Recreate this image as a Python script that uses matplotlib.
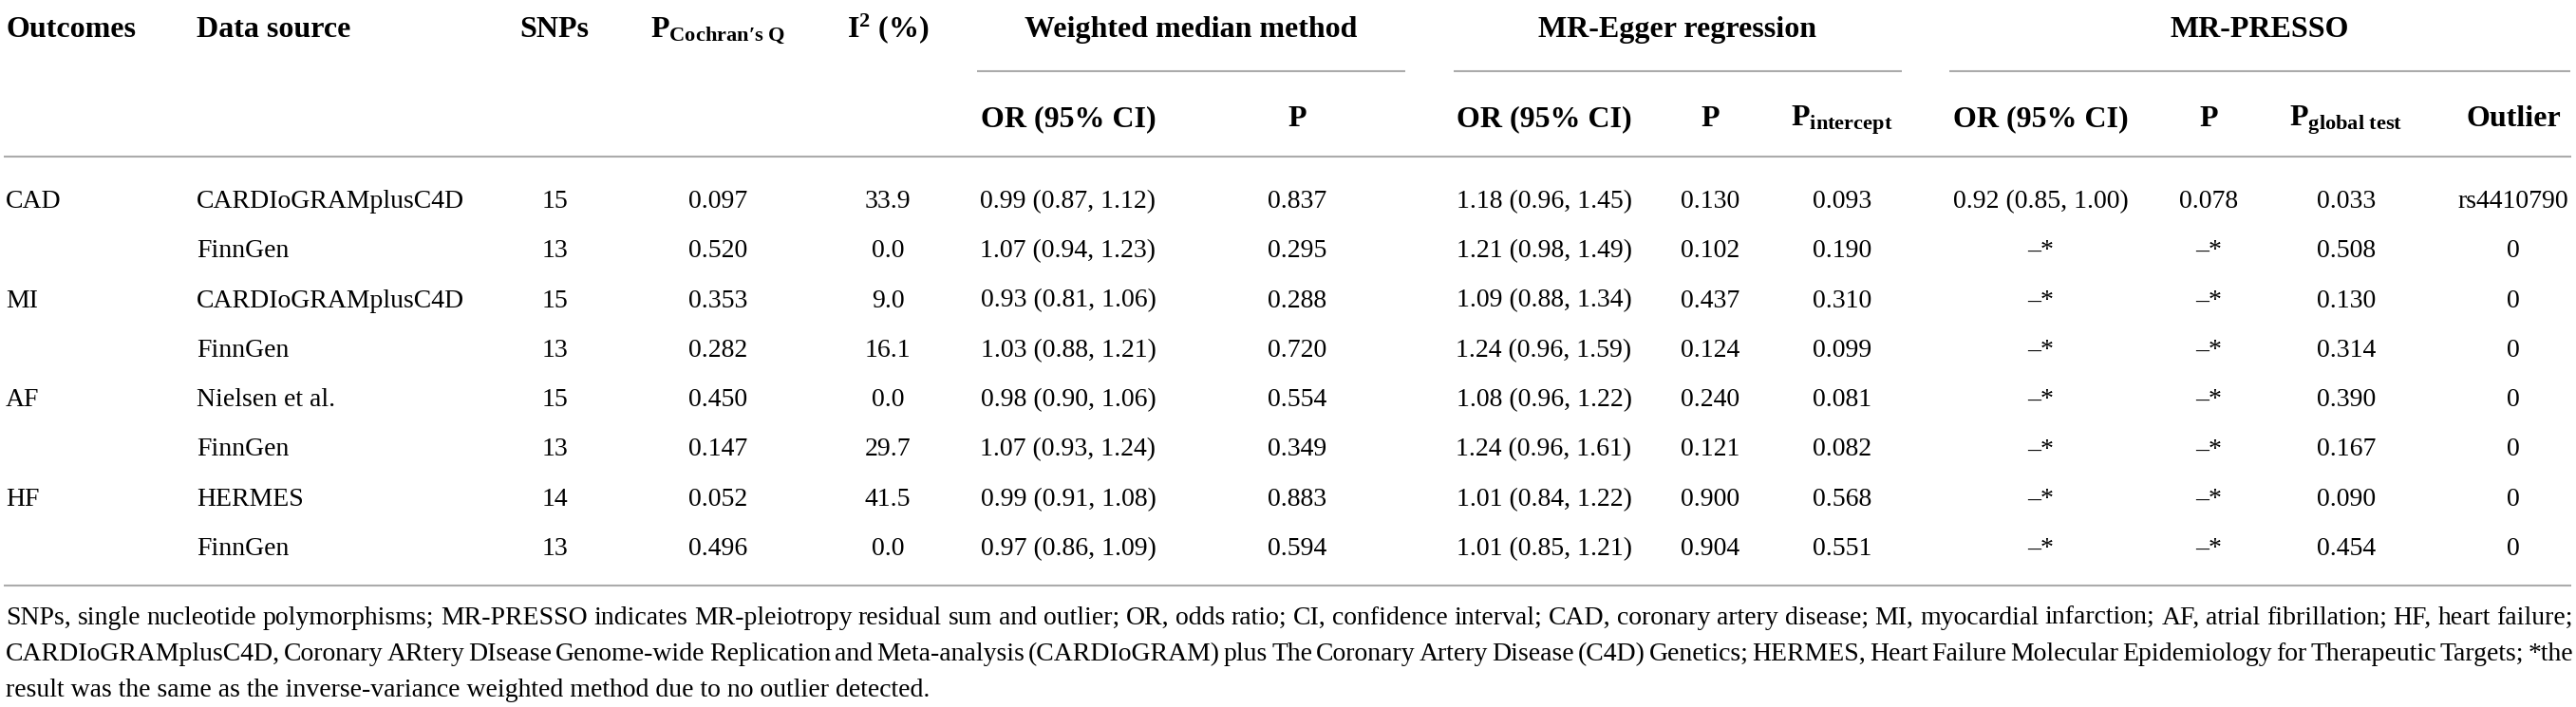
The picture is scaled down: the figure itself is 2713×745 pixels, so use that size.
import matplotlib
matplotlib.use("Agg")
import matplotlib.pyplot as plt

plt.rcParams['font.family'] = ['Liberation Serif', 'DejaVu Serif']
plt.rcParams['mathtext.fontset'] = 'custom'
plt.rcParams['mathtext.rm'] = 'Liberation Serif'
plt.rcParams['mathtext.bf'] = 'Liberation Serif:bold'
plt.rcParams['mathtext.it'] = 'Liberation Serif:italic'

# ---------------- data ----------------
outcomes = ["CAD", "", "MI", "", "AF", "", "HF", ""]
sources = ["CARDIoGRAMplusC4D", "FinnGen", "CARDIoGRAMplusC4D", "FinnGen",
           "Nielsen et al.", "FinnGen", "HERMES", "FinnGen"]
snps = [15, 13, 15, 13, 15, 13, 14, 13]
p_cochran = [0.097, 0.520, 0.353, 0.282, 0.450, 0.147, 0.052, 0.496]
i2 = [33.9, 0.0, 9.0, 16.1, 0.0, 29.7, 41.5, 0.0]
wm_or = [0.99, 1.07, 0.93, 1.03, 0.98, 1.07, 0.99, 0.97]
wm_lo = [0.87, 0.94, 0.81, 0.88, 0.90, 0.93, 0.91, 0.86]
wm_hi = [1.12, 1.23, 1.06, 1.21, 1.06, 1.24, 1.08, 1.09]
wm_p = [0.837, 0.295, 0.288, 0.720, 0.554, 0.349, 0.883, 0.594]
eg_or = [1.18, 1.21, 1.09, 1.24, 1.08, 1.24, 1.01, 1.01]
eg_lo = [0.96, 0.98, 0.88, 0.96, 0.96, 0.96, 0.84, 0.85]
eg_hi = [1.45, 1.49, 1.34, 1.59, 1.22, 1.61, 1.22, 1.21]
eg_p = [0.130, 0.102, 0.437, 0.124, 0.240, 0.121, 0.900, 0.904]
eg_int = [0.093, 0.190, 0.310, 0.099, 0.081, 0.082, 0.568, 0.551]
pr_or = ["0.92 (0.85, 1.00)", "–*", "–*", "–*", "–*", "–*", "–*", "–*"]
pr_p = ["0.078", "–*", "–*", "–*", "–*", "–*", "–*", "–*"]
pr_global = [0.033, 0.508, 0.130, 0.314, 0.390, 0.167, 0.090, 0.454]
outlier = ["rs4410790", "0", "0", "0", "0", "0", "0", "0"]

group_headers = ["Weighted median method", "MR-Egger regression", "MR-PRESSO"]
footnote = [
    "SNPs, single nucleotide polymorphisms; MR-PRESSO indicates MR-pleiotropy residual sum and outlier; "
    "OR, odds ratio; CI, confidence interval; CAD, coronary artery disease; MI, myocardial infarction; "
    "AF, atrial fibrillation; HF, heart failure;",
    "CARDIoGRAMplusC4D, Coronary ARtery DIsease Genome-wide Replication and Meta-analysis (CARDIoGRAM) "
    "plus The Coronary Artery Disease (C4D) Genetics; HERMES, Heart Failure Molecular Epidemiology for "
    "Therapeutic Targets; *the",
    "result was the same as the inverse-variance weighted method due to no outlier detected.",
]

# ---------------- layout ----------------
W, H = 2713, 745
fig = plt.figure(figsize=(W / 100, H / 100), dpi=100)
ax = fig.add_axes([0, 0, 1, 1])
ax.set_xlim(0, W)
ax.set_ylim(H, 0)
ax.axis('off')

BODY = 20
HEAD = 23
LINE_C = '#ababab'
LW = 1.5

col_x = {
    'outcome': 6, 'source': 207, 'snps': 584, 'pq': 756, 'i2': 935,
    'wm_or': 1125, 'wm_p': 1366, 'eg_or': 1626, 'eg_p': 1801, 'eg_int': 1940,
    'pr_or': 2149, 'pr_p': 2326, 'pr_g': 2471, 'out': 2647,
}

hdr1_y = 39
hdr2_y = 133

def txt(x, y, s, ha='center', bold=False, size=BODY):
    ax.text(x, y, s, ha=ha, va='baseline', fontsize=size,
            fontweight='bold' if bold else 'normal', color='black')

# header row 1
txt(col_x['outcome'], hdr1_y, "Outcomes", ha='left', bold=True, size=HEAD)
txt(col_x['source'], hdr1_y, "Data source", ha='left', bold=True, size=HEAD)
txt(col_x['snps'], hdr1_y, "SNPs", bold=True, size=HEAD)
txt(col_x['pq'], hdr1_y, r"$\mathbf{P}_{\mathbf{Cochran′s\ Q}}$", bold=True, size=HEAD)
txt(col_x['i2'], hdr1_y, r"$\mathbf{I}^{\mathbf{2}}$ (%)", bold=True, size=HEAD)

groups = [(1029, 1480), (1531, 2003), (2053, 2707)]
for (x0, x1), g in zip(groups, group_headers):
    txt((x0 + x1) / 2, hdr1_y, g, bold=True, size=HEAD)
    ax.plot([x0, x1], [75, 75], color=LINE_C, lw=LW, solid_capstyle='butt')

# header row 2
sub = [('wm_or', "OR (95% CI)"), ('wm_p', "P"), ('eg_or', "OR (95% CI)"),
       ('eg_p', "P"), ('eg_int', r"$\mathbf{P}_{\mathbf{intercept}}$"),
       ('pr_or', "OR (95% CI)"), ('pr_p', "P"),
       ('pr_g', r"$\mathbf{P}_{\mathbf{global\ test}}$"), ('out', "Outlier")]
for k, s in sub:
    txt(col_x[k], hdr2_y, s, bold=True, size=HEAD)

# rules
ax.plot([4, 2708], [165, 165], color=LINE_C, lw=LW, solid_capstyle='butt')
ax.plot([4, 2708], [617, 617], color=LINE_C, lw=LW, solid_capstyle='butt')

# body rows
row0 = 219.0
step = 52.3
for i in range(len(sources)):
    y = row0 + i * step
    txt(col_x['outcome'], y, outcomes[i], ha='left')
    txt(col_x['source'], y, sources[i], ha='left')
    txt(col_x['snps'], y, f"{snps[i]}")
    txt(col_x['pq'], y, f"{p_cochran[i]:.3f}")
    txt(col_x['i2'], y, f"{i2[i]:.1f}")
    txt(col_x['wm_or'], y, f"{wm_or[i]:.2f} ({wm_lo[i]:.2f}, {wm_hi[i]:.2f})")
    txt(col_x['wm_p'], y, f"{wm_p[i]:.3f}")
    txt(col_x['eg_or'], y, f"{eg_or[i]:.2f} ({eg_lo[i]:.2f}, {eg_hi[i]:.2f})")
    txt(col_x['eg_p'], y, f"{eg_p[i]:.3f}")
    txt(col_x['eg_int'], y, f"{eg_int[i]:.3f}")
    txt(col_x['pr_or'], y, pr_or[i])
    txt(col_x['pr_p'], y, pr_p[i])
    txt(col_x['pr_g'], y, f"{pr_global[i]:.3f}")
    txt(col_x['out'], y, outlier[i])

# footnote (first two lines justified)
renderer = fig.canvas.get_renderer()
foot_y = [658, 696, 734]
left, right = 6, 2710
for li, (line, y) in enumerate(zip(footnote, foot_y)):
    if li < len(footnote) - 1:
        words = line.split(" ")
        objs = [ax.text(0, y, w, ha='left', va='baseline', fontsize=BODY) for w in words]
        widths = [o.get_window_extent(renderer=renderer).width for o in objs]
        gap = (right - left - sum(widths)) / (len(words) - 1)
        x = left
        for o, wdt in zip(objs, widths):
            o.set_x(x)
            x += wdt + gap
    else:
        ax.text(left, y, line, ha='left', va='baseline', fontsize=BODY)

fig.savefig("out.png", dpi=100)
